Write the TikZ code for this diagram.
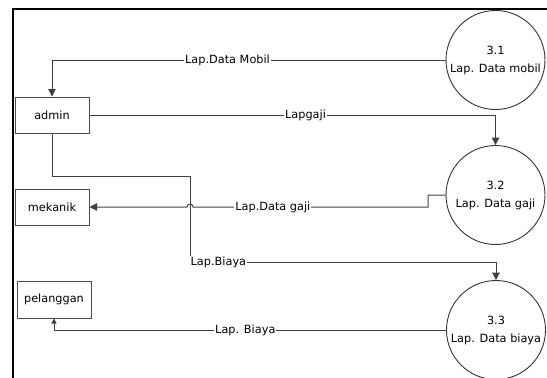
\documentclass[tikz,border=0pt]{standalone}
\usepackage{fontspec}
\setmainfont{DejaVu Sans}
\usetikzlibrary{arrows.meta}
\tikzset{
  entitas/.style={draw=black!70, line width=1pt, minimum width=74pt,
    minimum height=36pt, inner sep=0pt},
  proses/.style={circle, draw=black!80, line width=0.9pt, align=center,
    inner sep=0pt, minimum size=99pt, font=\fontsize{11.3}{18}\selectfont},
  aliran/.style={draw=black!75, line width=1pt,
    -{Triangle[width=7.5pt,length=7.5pt]}},
  teksaliran/.style={fill=white, inner sep=1pt, text=black}
}
\begin{document}
\begin{tikzpicture}[x=1pt, y=-1pt, font=\fontsize{11.3}{13}\selectfont]
  \useasboundingbox (0,0) rectangle (547,378);
  % Bingkai
  \draw[line width=2pt] (12.5,378) -- (12.5,9) -- (547,9);
  % Entitas luar
  \node[entitas] (admin) at (52,115) {admin};
  \node[entitas] (mekanik) at (52,207) {mekanik};
  \node[entitas, minimum height=37pt] (pelanggan) at (54,299.5) {pelanggan};
  % Proses
  \node[proses] (p31) at (495.5,60) {3.1\\Lap. Data mobil};
  \node[proses] (p32) at (495.5,195) {3.2\\Lap. Data gaji};
  \node[proses] (p33) at (496,330) {3.3\\Lap. Data biaya};
  % Titik belok
  \coordinate (k1) at (190,176);
  \coordinate (k2) at (190,262);
  \coordinate (b1) at (428,207);
  \coordinate (hop) at (190,207);
  % Aliran data
  \draw[aliran] (p31.west) -| node[teksaliran, pos=0.277] {Lap.Data Mobil}
    (admin.north);
  \draw[aliran] (admin.east) -| node[teksaliran, pos=0.266] {Lapgaji}
    (p32.north);
  \draw[aliran] (admin.south) |- (k1) -- (k2) -| (p33.north);
  \node[teksaliran, anchor=west, inner xsep=0.5pt] at (k2) {Lap.Biaya};
  \draw[aliran] (p32.west) -| (b1)
    -- node[teksaliran, pos=0.66] {Lap.Data gaji} ([xshift=3pt]hop)
    arc[start angle=0, end angle=180, radius=3pt] -- (mekanik.east);
  \draw[aliran, -{Triangle[width=5pt,length=5pt]}] (p33.west) -|
    node[teksaliran, pos=0.256] {Lap. Biaya} (pelanggan.south);
\end{tikzpicture}
\end{document}
